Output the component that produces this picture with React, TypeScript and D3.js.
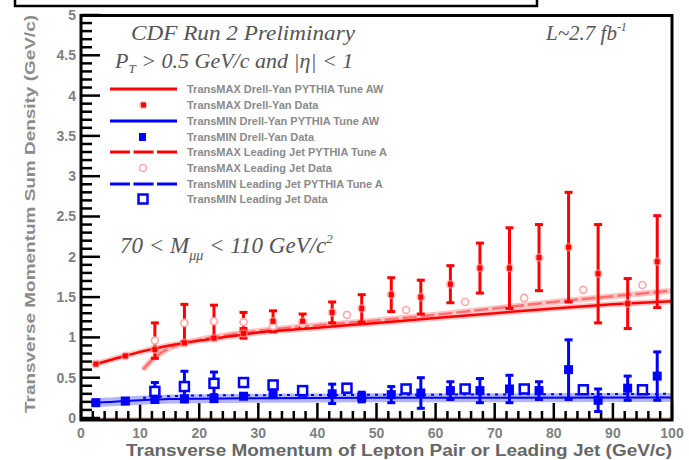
import React from "react";
import * as d3 from "d3";

// bin centres (GeV/c)
const dyPt = [2.5, 7.5, 12.5, 17.5, 22.5, 27.5, 32.5, 37.5, 42.5, 47.5, 52.5, 57.5, 62.5, 67.5, 72.5, 77.5, 82.5, 87.5, 92.5, 97.5];
const ljPt = [12.5, 17.5, 22.5, 27.5, 32.5, 37.5, 45, 55, 65, 75, 85, 95];

// TransMAX / TransMIN data
const dyMaxVal = [0.67, 0.77, 0.85, 0.93, 0.99, 1.05, 1.2, 1.2, 1.31, 1.36, 1.53, 1.5, 1.66, 1.86, 1.86, 1.99, 2.12, 1.79, 1.42, 1.94];
const dyMaxErr = [0.02, 0.03, 0.04, 0.05, 0.05, 0.06, 0.13, 0.09, 0.13, 0.17, 0.21, 0.21, 0.23, 0.31, 0.5, 0.41, 0.68, 0.61, 0.31, 0.57];
const dyMinVal = [0.19, 0.21, 0.23, 0.24, 0.24, 0.27, 0.29, 0.32, 0.3, 0.26, 0.29, 0.31, 0.34, 0.34, 0.36, 0.34, 0.6, 0.22, 0.37, 0.52];
const dyMinErr = [0.01, 0.01, 0.02, 0.02, 0.02, 0.03, 0.04, 0.05, 0.12, 0.06, 0.1, 0.19, 0.11, 0.15, 0.17, 0.11, 0.37, 0.14, 0.15, 0.3];
const ljMaxVal = [0.96, 1.18, 1.2, 1.19, 1.14, 1.17, 1.28, 1.34, 1.44, 1.49, 1.59, 1.65];
const ljMaxErr = [0.22, 0.23, 0.2, 0.12, 0.04, 0.04, 0.03, 0.03, 0.03, 0.03, 0.03, 0.03];
const ljMinVal = [0.33, 0.39, 0.43, 0.44, 0.41, 0.34, 0.37, 0.36, 0.36, 0.36, 0.35, 0.35];
const ljMinErr = [0.11, 0.19, 0.14, 0.05, 0.04, 0.03, 0.02, 0.02, 0.02, 0.02, 0.02, 0.02];

// PYTHIA curves
const dyMaxCurvePt = [2.5, 5, 10, 15, 20, 25, 30, 40, 50, 60, 70, 80, 90, 100];
const dyMaxCurve = [0.67, 0.72, 0.82, 0.9, 0.96, 1.01, 1.06, 1.12, 1.18, 1.24, 1.3, 1.36, 1.41, 1.45];
const ljMaxCurvePt = [10.5, 12, 14, 17, 20, 30, 40, 50, 60, 70, 80, 90, 100];
const ljMaxCurve = [0.6, 0.72, 0.83, 0.92, 0.97, 1.08, 1.15, 1.21, 1.28, 1.36, 1.44, 1.51, 1.58];
const dyMinCurvePt = [2.5, 5, 10, 15, 20, 30, 50, 70, 100];
const dyMinCurve = [0.19, 0.2, 0.22, 0.235, 0.24, 0.245, 0.25, 0.25, 0.255];
const ljMinCurvePt = [10.5, 15, 20, 40, 60, 100];
const ljMinCurve = [0.25, 0.27, 0.28, 0.285, 0.29, 0.3];

const xTickLabels = ["0", "10", "20", "30", "40", "50", "60", "70", "80", "90", "100"];
const yTickLabels = ["0", "0.5", "1", "1.5", "2", "2.5", "3", "3.5", "4", "4.5", "5"];

const legendLabels = [
  "TransMAX Drell-Yan PYTHIA Tune AW",
  "TransMAX Drell-Yan Data",
  "TransMIN Drell-Yan PYTHIA Tune AW",
  "TransMIN Drell-Yan Data",
  "TransMAX Leading Jet PYTHIA Tune A",
  "TransMAX Leading Jet Data",
  "TransMIN Leading Jet PYTHIA Tune A",
  "TransMIN Leading Jet Data",
];

const RED = "#ff0000";
const BLUE = "#0000ff";
const GREY = "#7f7f7f";

const x = d3.scaleLinear().domain([0, 100]).range([81, 672]);
const y = d3.scaleLinear().domain([0, 5]).range([418, 15]);

const line = d3
  .line<[number, number]>()
  .x((d) => x(d[0]))
  .y((d) => y(d[1]))
  .curve(d3.curveMonotoneX);

const zip = (a: number[], b: number[]) => a.map((v, i) => [v, b[i]] as [number, number]);

function ErrBars({ pts, vals, errs, color }: { pts: number[]; vals: number[]; errs: number[]; color: string }) {
  return (
    <g stroke={color} strokeWidth={3}>
      {pts.map((p, i) => {
        if (errs[i] < 0.06) return null;
        const cx = x(p);
        const y1 = y(vals[i] + errs[i]);
        const y2 = y(vals[i] - errs[i]);
        return (
          <g key={i}>
            <line x1={cx} x2={cx} y1={y1} y2={y2} />
            <line x1={cx - 4} x2={cx + 4} y1={y1} y2={y1} />
            <line x1={cx - 4} x2={cx + 4} y1={y2} y2={y2} />
          </g>
        );
      })}
    </g>
  );
}

export default function App() {
  const xMinor = d3.range(0, 101, 2);
  const yMinor = d3.range(0, 50.5, 1).map((v) => v / 10);
  const ly = [89, 105, 121, 137, 152, 168, 184, 199];

  return (
    <svg width={689} height={460} style={{ position: "absolute", left: 0, top: 0, background: "#fff" }}>
      {/* leftover box at top */}
      <path d="M15,0 V6 H537 V0" fill="none" stroke="#000" strokeWidth={2.5} />

      {/* zero line */}
      <line x1={x(0)} x2={x(100)} y1={y(0)} y2={y(0)} stroke="#ffc8c8" strokeWidth={2} />

      {/* ticks */}
      <g stroke="#000" strokeWidth={2.5}>
        {xMinor.map((v) => (
          <line key={"x" + v} x1={x(v)} x2={x(v)} y1={420} y2={v % 10 === 0 ? 403 : 411} />
        ))}
        {yMinor.map((v, i) => (
          <line key={"y" + i} x1={81} x2={i % 5 === 0 ? 100 : 92} y1={y(v)} y2={y(v)} />
        ))}
      </g>

      {/* PYTHIA bands and curves */}
      <path d={line(zip(dyMinCurvePt, dyMinCurve)) || ""} fill="none" stroke="#b4b4ff" strokeWidth={9} />
      <path d={line(zip(ljMinCurvePt, ljMinCurve)) || ""} fill="none" stroke={BLUE} strokeWidth={2} strokeDasharray="3,5" />
      <path d={line(zip(dyMinCurvePt, dyMinCurve)) || ""} fill="none" stroke={BLUE} strokeWidth={2} />

      <path d={line(zip(ljMaxCurvePt, ljMaxCurve)) || ""} fill="none" stroke="#ffc4c4" strokeWidth={6} />
      <path d={line(zip(dyMaxCurvePt, dyMaxCurve)) || ""} fill="none" stroke="#ffc4c4" strokeWidth={6} />
      <path d={line(zip(ljMaxCurvePt, ljMaxCurve)) || ""} fill="none" stroke="#ff7070" strokeWidth={2.5} strokeDasharray="14,4" />
      <path d={line(zip(dyMaxCurvePt, dyMaxCurve)) || ""} fill="none" stroke={RED} strokeWidth={2.5} />

      {/* error bars */}
      <ErrBars pts={ljPt} vals={ljMaxVal} errs={ljMaxErr} color={RED} />
      <ErrBars pts={dyPt} vals={dyMaxVal} errs={dyMaxErr} color={RED} />
      <ErrBars pts={ljPt} vals={ljMinVal} errs={ljMinErr} color={BLUE} />
      <ErrBars pts={dyPt} vals={dyMinVal} errs={dyMinErr} color={BLUE} />

      {/* markers */}
      {ljPt.map((p, i) => (
        <circle key={"lmx" + i} cx={x(p)} cy={y(ljMaxVal[i])} r={3.5} fill="#fff" stroke="#ffa8a8" strokeWidth={1.6} />
      ))}
      {dyPt.map((p, i) => (
        <g key={"dmx" + i}>
          <circle cx={x(p)} cy={y(dyMaxVal[i])} r={4.5} fill="#ff9090" opacity={0.6} />
          <rect x={x(p) - 2.5} y={y(dyMaxVal[i]) - 2.5} width={5} height={5} fill={RED} />
        </g>
      ))}
      {dyPt.map((p, i) => (
        <rect key={"dmn" + i} x={x(p) - 4.5} y={y(dyMinVal[i]) - 4.5} width={9} height={9} fill={BLUE} />
      ))}
      {ljPt.map((p, i) => (
        <rect key={"lmn" + i} x={x(p) - 4.5} y={y(ljMinVal[i]) - 4.5} width={9} height={9} fill="#fff" stroke={BLUE} strokeWidth={2.5} />
      ))}

      {/* frame */}
      <rect x={81} y={15.5} width={591} height={404.5} fill="none" stroke="#000" strokeWidth={3} />

      {/* tick labels */}
      <g fontFamily="Liberation Sans, Arial, sans-serif" fontWeight="bold" fontSize={14} fill={GREY}>
        {xTickLabels.map((t, i) => (
          <text key={"xl" + i} x={x(i * 10)} y={438} textAnchor="middle">{t}</text>
        ))}
        {yTickLabels.map((t, i) => (
          <text key={"yl" + i} x={76} y={y(i * 0.5)} dy="0.35em" textAnchor="end">{t}</text>
        ))}
      </g>

      {/* axis titles */}
      <text x={126} y={456} textLength={546} lengthAdjust="spacingAndGlyphs" fontFamily="Liberation Sans, Arial, sans-serif" fontWeight="bold" fontSize={16} fill="#666">
        Transverse Momentum of Lepton Pair or Leading Jet (GeV/c)
      </text>
      <text transform="translate(35,413) rotate(-90)" textLength={398} lengthAdjust="spacingAndGlyphs" fontFamily="Liberation Sans, Arial, sans-serif" fontWeight="bold" fontSize={15} fill="#8c8c8c">
        Transverse Momentum Sum Density (GeV/c)
      </text>

      {/* annotations */}
      <g fontFamily="Liberation Serif, Times New Roman, serif" fontStyle="italic" fill="#555">
        <text x={131} y={40} fontSize={21} textLength={224} lengthAdjust="spacingAndGlyphs">CDF Run 2 Preliminary</text>
        <text x={546} y={40} fontSize={21}>
          L~2.7 fb<tspan dy={-9} fontSize={12}>-1</tspan>
        </text>
        <text x={115} y={68} fontSize={22}>
          P<tspan dy={5} fontSize={13}>T</tspan>
          <tspan dy={-5}> &gt; 0.5  GeV/c and |η| &lt; 1</tspan>
        </text>
        <text x={120} y={253} fontSize={23}>
          70 &lt; M<tspan dy={7} fontSize={14}>μμ</tspan>
          <tspan dy={-7}> &lt; 110 GeV/c</tspan>
          <tspan dy={-10} fontSize={13}>2</tspan>
        </text>
      </g>

      {/* legend */}
      <g>
        <line x1={110} x2={177} y1={ly[0]} y2={ly[0]} stroke={RED} strokeWidth={3} />
        <circle cx={143} cy={ly[1]} r={4} fill="#ff9090" opacity={0.6} />
        <rect x={141} y={ly[1] - 2.5} width={5} height={5} fill={RED} />
        <line x1={110} x2={177} y1={ly[2]} y2={ly[2]} stroke={BLUE} strokeWidth={3} />
        <rect x={139} y={ly[3] - 4} width={7} height={8} fill={BLUE} />
        <line x1={110} x2={177} y1={ly[4]} y2={ly[4]} stroke={RED} strokeWidth={3} strokeDasharray="20,3.5" />
        <circle cx={143} cy={ly[5]} r={3.5} fill="#fff" stroke="#ffa8a8" strokeWidth={1.6} />
        <line x1={110} x2={177} y1={ly[6]} y2={ly[6]} stroke={BLUE} strokeWidth={3} strokeDasharray="20,3.5" />
        <rect x={138.5} y={ly[7] - 4.5} width={9} height={9} fill="#fff" stroke={BLUE} strokeWidth={2.5} />
        <g fontFamily="Liberation Sans, Arial, sans-serif" fontWeight="bold" fontSize={11} fill="#8a8a8a">
          {legendLabels.map((t, i) => (
            <text key={"lg" + i} x={187} y={ly[i]} dy="0.35em">{t}</text>
          ))}
        </g>
      </g>
    </svg>
  );
}
